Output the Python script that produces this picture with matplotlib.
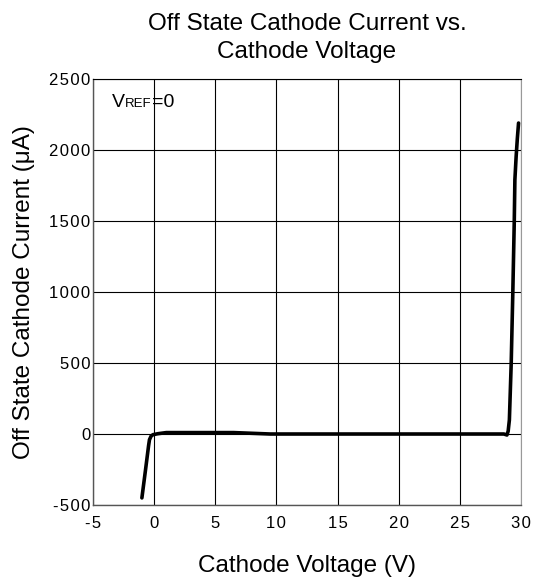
import matplotlib.pyplot as plt
from matplotlib.offsetbox import TextArea, HPacker, AnchoredOffsetbox

plt.rcParams['font.family'] = ['Liberation Sans', 'DejaVu Sans']

# curve
volts = [-1.0, -0.7, -0.45, -0.38, -0.25, -0.1, 0.3, 1.0, 3.0, 6.5, 8.0, 9.5,
         15.0, 20.0, 25.0, 28.6, 28.85, 28.95, 29.05, 29.2, 29.33, 29.45, 29.5,
         29.6, 29.7, 29.8]
current = [-450, -250, -80, -40, -15, -5, 2, 10, 10, 10, 5, 0,
           0, 0, 0, 0, -7, 20, 99, 500, 993, 1500, 1790, 1950, 2080, 2190]

xticks = [-5, 0, 5, 10, 15, 20, 25, 30]
yticks = [-500, 0, 500, 1000, 1500, 2000, 2500]


def spaced(v):
    return '\u200a'.join(str(v))


fig = plt.figure(figsize=(5.39, 5.81), dpi=100)
ax = fig.add_axes([0.1725, 0.1308, 0.7941, 0.7332])
ax.plot(volts, current, color='black', lw=2.6, solid_capstyle='round', solid_joinstyle='round')
ax.set_xlim(-5, 30)
ax.set_ylim(-500, 2500)
ax.set_xticks(xticks, [spaced(v) for v in xticks])
ax.set_yticks(yticks, [spaced(v) for v in yticks])
ax.grid(True, color='black', lw=0.8)
ax.tick_params(length=0, labelsize=12)
ax.tick_params(axis='x', pad=8)
ax.tick_params(axis='y', pad=2)
ax.spines['right'].set_color('#999999')
for s in ['left', 'bottom']:
    ax.spines[s].set_color('#555555')
    ax.spines[s].set_linewidth(1.0)
ax.set_xlabel('Cathode Voltage (V)', fontsize=17.5, labelpad=17)
ax.set_ylabel('Off State Cathode Current (\u03bcA)', fontsize=17.5, labelpad=10)
ax.set_title('Off State Cathode Current vs.\nCathode Voltage', fontsize=17.5, pad=15,
             linespacing=1.35)

vref = HPacker(children=[TextArea('V', textprops=dict(fontsize=14)),
                         TextArea('REF', textprops=dict(fontsize=9.5)),
                         TextArea('=0', textprops=dict(fontsize=14))],
               align='baseline', pad=0, sep=0)
box = AnchoredOffsetbox(loc='upper left', child=vref, frameon=False,
                        bbox_to_anchor=(0.025, 0.985), bbox_transform=ax.transAxes, borderpad=0.2)
ax.add_artist(box)

fig.savefig('out.png', dpi=100)
